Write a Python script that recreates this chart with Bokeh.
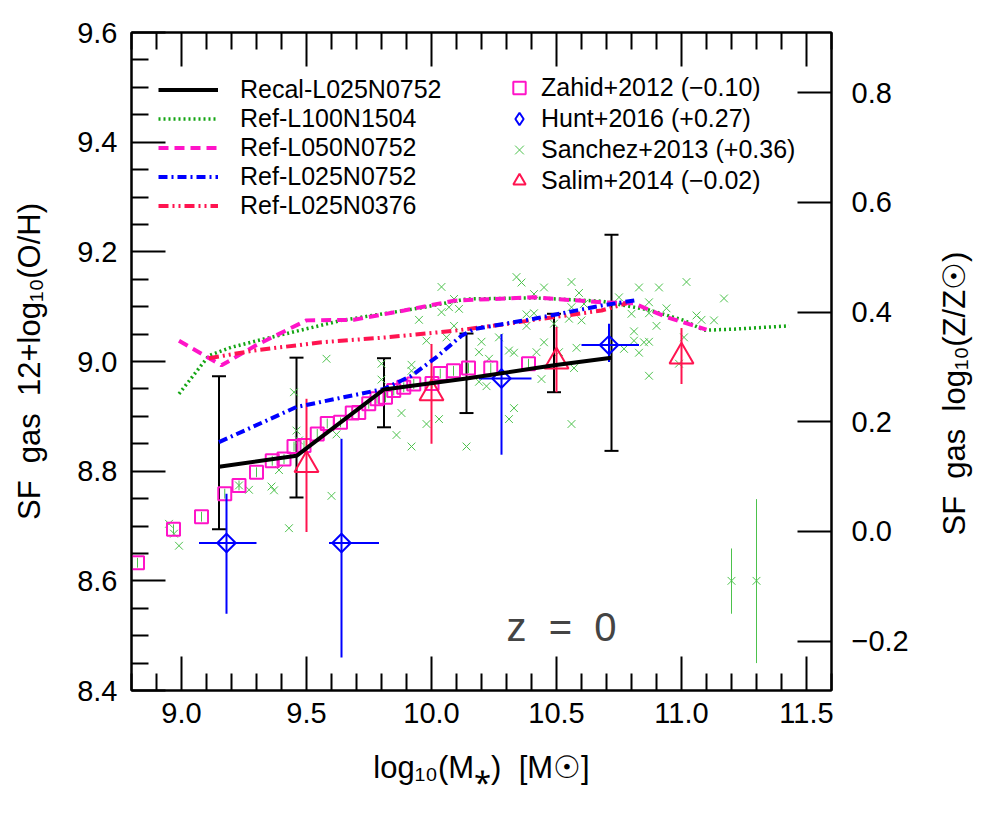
import math
from bokeh.plotting import figure
from bokeh.models import (Range1d, LinearAxis, FixedTicker, Legend, LegendItem, Label, Whisker,
                          TeeHead, ColumnDataSource, PrintfTickFormatter)
from bokeh.embed import file_html
from bokeh.resources import INLINE

# ---------------- data ----------------
SOLAR_OH = 8.69

x_ticks = [9.0, 9.5, 10.0, 10.5, 11.0, 11.5]
x_minor = [8.8, 8.9, 9.1, 9.2, 9.3, 9.4, 9.6, 9.7, 9.8, 9.9, 10.1, 10.2, 10.3, 10.4, 10.6,
           10.7, 10.8, 10.9, 11.1, 11.2, 11.3, 11.4, 11.6]
y_ticks = [8.4, 8.6, 8.8, 9.0, 9.2, 9.4, 9.6]
y_minor = [8.45, 8.5, 8.55, 8.65, 8.7, 8.75, 8.85, 8.9, 8.95, 9.05, 9.1, 9.15, 9.25, 9.3, 9.35,
           9.45, 9.5, 9.55]
right_ticks = [-0.2, 0.0, 0.2, 0.4, 0.6, 0.8]
right_labels = ["\u22120.2", "0.0", "0.2", "0.4", "0.6", "0.8"]

recal_x = [9.15, 9.46, 9.81, 10.14, 10.49, 10.72]
recal_y = [8.808, 8.828, 8.949, 8.969, 8.993, 9.007]
recal_lo = [8.694, 8.752, 8.880, 8.906, 8.944, 8.837]
recal_hi = [8.973, 9.007, 9.006, 9.051, 9.087, 9.231]

ref100_x = [8.99, 9.11, 9.20, 9.33, 9.64, 9.96, 10.14, 10.41, 10.68, 10.87, 11.01, 11.09, 11.21, 11.43]
ref100_y = [8.941, 9.011, 9.026, 9.041, 9.075, 9.098, 9.114, 9.116, 9.110, 9.094, 9.075, 9.057, 9.059, 9.065]

ref50_x = [8.99, 9.16, 9.30, 9.50, 9.69, 9.89, 10.09, 10.41, 10.68, 10.81, 10.94, 11.10]
ref50_y = [9.038, 8.993, 9.030, 9.075, 9.076, 9.093, 9.111, 9.117, 9.108, 9.106, 9.081, 9.058]

ref25_x = [9.15, 9.46, 9.81, 9.92, 10.02, 10.12, 10.17, 10.41, 10.68, 10.82]
ref25_y = [8.853, 8.917, 8.950, 8.974, 9.008, 9.047, 9.059, 9.078, 9.102, 9.112]

ref25lo_x = [9.11, 9.29, 9.56, 9.82, 10.09, 10.28, 10.41, 10.54, 10.68, 10.78]
ref25lo_y = [9.006, 9.020, 9.035, 9.044, 9.056, 9.067, 9.076, 9.084, 9.093, 9.106]

zahid_x = [8.824, 8.968, 9.080, 9.173, 9.230, 9.300, 9.363, 9.410, 9.450, 9.490, 9.543,
           9.583, 9.636, 9.683, 9.709, 9.749, 9.782, 9.816, 9.849, 9.889, 9.929, 10.002,
           10.035, 10.088, 10.148, 10.237, 10.388]
zahid_y = [8.633, 8.694, 8.717, 8.759, 8.774, 8.798, 8.819, 8.822, 8.845, 8.847, 8.868,
           8.887, 8.889, 8.906, 8.907, 8.923, 8.932, 8.935, 8.947, 8.953, 8.959, 8.960,
           8.978, 8.983, 8.988, 8.988, 8.996]
zahid_err = [0.009, 0.009, 0.009, 0.009, 0.009, 0.009, 0.009, 0.009, 0.009, 0.009, 0.009,
             0.009, 0.009, 0.009, 0.009, 0.009, 0.009, 0.009, 0.009, 0.009, 0.009, 0.009,
             0.009, 0.009, 0.009, 0.009, 0.009]

hunt_x = [9.18, 9.64, 10.28, 10.71]
hunt_y = [8.669, 8.669, 8.969, 9.030]
hunt_xlo = [9.07, 9.59, 10.19, 10.60]
hunt_xhi = [9.30, 9.79, 10.40, 10.83]
hunt_ylo = [8.540, 8.460, 8.830, 8.999]
hunt_yhi = [8.759, 8.859, 9.050, 9.069]

sanchez_x = [10.04, 10.09, 10.04, 10.11, 10.07, 9.95, 10.09, 9.98, 10.20, 10.06, 9.58, 10.19,
             9.80, 9.92, 9.92, 10.23, 10.27, 9.45, 9.80, 10.19, 10.22, 9.88, 10.03, 9.98,
             9.86, 9.46, 9.47, 9.62, 9.92, 10.14, 9.39, 9.36, 9.37, 9.27, 9.23, 9.60, 9.43,
             8.95, 8.97, 8.99, 10.34, 10.36, 10.38, 10.38, 10.33, 10.33, 10.31, 10.45, 10.56,
             10.59, 11.17, 10.83, 10.91, 11.02, 10.41, 10.41, 10.75, 10.87, 10.94, 10.80,
             10.87, 11.06, 11.08, 11.13, 10.90, 10.60, 10.55, 10.49, 10.56, 10.81, 10.81,
             10.85, 10.87, 11.01, 10.58, 10.57, 10.83, 10.87, 10.77, 10.45, 10.42, 10.31,
             10.56, 10.61, 10.44, 10.51, 10.99]
sanchez_y = [9.136, 9.114, 9.090, 9.096, 9.099, 9.076, 9.065, 9.038, 9.036, 9.044, 9.005, 9.017,
             8.996, 8.994, 8.983, 9.005, 9.044, 8.944, 8.967, 8.963, 8.955, 8.906, 8.895, 8.886,
             8.866, 8.874, 8.856, 8.867, 8.845, 8.845, 8.802, 8.772, 8.765, 8.766, 8.774, 8.755, 8.696,
             8.704, 8.686, 8.664, 9.154, 9.144, 9.086, 9.065, 9.016, 8.915, 8.895, 9.135, 9.145,
             9.125, 9.115, 9.135, 9.135, 9.145, 9.123, 9.088, 9.117, 9.108, 9.097, 9.087,
             9.088, 9.084, 9.076, 9.075, 9.065, 9.075, 9.078, 9.069, 9.099, 9.055, 9.038,
             9.035, 9.036, 9.044, 9.025, 8.988, 9.016, 8.974, 9.023, 9.035, 9.017, 9.020,
             8.886, 9.105, 8.968, 9.017, 8.996]

sanchez_err_x = [11.2, 11.3]
sanchez_err_y = [8.60, 8.60]
sanchez_err_lo = [8.540, 8.450]
sanchez_err_hi = [8.659, 8.749]

salim_x = [9.5, 10.0, 10.5, 11.0]
salim_y = [8.811, 8.942, 9.000, 9.009]
salim_lo = [8.689, 8.850, 8.944, 8.959]
salim_hi = [8.932, 9.032, 9.063, 9.061]

RIGHT_TITLE = "SF\u00a0 gas\u00a0 log\u2081\u2080(Z/Z\u2609)"

# ---------------- styles ----------------
FONT = "Liberation Sans"
BLACK = "#000000"
GREEN = "#14a514"
MAGENTA = "#ff14c8"
BLUE = "#0000ff"
RED = "#ff1450"
XGREEN = "#4cc24c"

p = figure(width=992, height=810, output_backend="svg", toolbar_location=None,
           x_range=Range1d(8.8, 11.6), y_range=Range1d(8.4, 9.6),
           min_border_left=131, min_border_right=159, min_border_top=32, min_border_bottom=120,
           x_axis_location=None, y_axis_location=None)
p.xgrid.visible = False
p.ygrid.visible = False
p.outline_line_color = "black"
p.outline_line_width = 2
p.background_fill_color = "white"
p.border_fill_color = "white"


def style_axis(ax):
    ax.axis_line_width = 2
    ax.major_tick_line_width = 2
    ax.minor_tick_line_width = 2
    ax.major_tick_in = 34
    ax.major_tick_out = 0
    ax.minor_tick_in = 17
    ax.minor_tick_out = 0
    ax.major_label_text_font = FONT
    ax.major_label_text_font_size = "29px"
    ax.major_label_text_color = "black"
    ax.axis_label_text_font = FONT
    ax.axis_label_text_font_size = "31px"
    ax.axis_label_text_font_style = "normal"
    ax.axis_label_text_color = "black"


xb = LinearAxis(ticker=FixedTicker(ticks=x_ticks, minor_ticks=x_minor),
                formatter=PrintfTickFormatter(format="%.1f"),
                axis_label="log\u2081\u2080(M\u204e)\u00a0 [M\u2609]")
style_axis(xb)
xb.major_label_standoff = 12
xb.axis_label_standoff = 24
p.add_layout(xb, "below")

xt = LinearAxis(ticker=FixedTicker(ticks=x_ticks, minor_ticks=x_minor),
                major_label_overrides={t: "" for t in x_ticks})
style_axis(xt)
xt.major_label_standoff = 0
p.add_layout(xt, "above")

yl = LinearAxis(ticker=FixedTicker(ticks=y_ticks, minor_ticks=y_minor),
                formatter=PrintfTickFormatter(format="%.1f"),
                axis_label="SF\u00a0 gas\u00a0 12+log\u2081\u2080(O/H)")
style_axis(yl)
yl.major_label_standoff = 14
yl.axis_label_standoff = 27
p.add_layout(yl, "left")

p.extra_y_ranges = {"zsun": Range1d(8.4 - SOLAR_OH, 9.6 - SOLAR_OH)}
yr = LinearAxis(y_range_name="zsun", ticker=FixedTicker(ticks=right_ticks, minor_ticks=[]),
                major_label_overrides={t: s for t, s in zip(right_ticks, right_labels)})
style_axis(yr)
yr.minor_tick_in = 0
yr.major_label_standoff = 20
p.add_layout(yr, "right")

# second (tick-less) right axis that only carries the right-hand title, reading upwards
yr2 = LinearAxis(y_range_name="zsun", ticker=FixedTicker(ticks=[], minor_ticks=[]))
style_axis(yr2)
yr2.axis_line_color = None
yr2.major_tick_line_color = None
yr2.minor_tick_line_color = None
yr2.major_tick_in = 0
yr2.minor_tick_in = 0
yr2.major_label_standoff = 0
yr2.axis_label_standoff = 43
yr2.axis_label_orientation = math.pi / 2
if "axis_label_align" in yr2.properties():
    yr2.axis_label_align = "start"
    yr2.axis_label = "\u00a0" * 18 + RIGHT_TITLE
else:
    yr2.axis_label = RIGHT_TITLE
p.add_layout(yr2, "right")

# ---------------- observations ----------------
p.scatter(sanchez_x, sanchez_y, marker="x", size=11, line_color=XGREEN, line_width=1)
p.segment(sanchez_err_x, sanchez_err_lo, sanchez_err_x, sanchez_err_hi, line_color=XGREEN, line_width=1)
r_sanchez = p.scatter(sanchez_err_x, sanchez_err_y, marker="x", size=11, line_color=XGREEN, line_width=1)

p.segment(zahid_x, [y - e for y, e in zip(zahid_y, zahid_err)],
          zahid_x, [y + e for y, e in zip(zahid_y, zahid_err)], line_color=XGREEN, line_width=1)
r_zahid = p.scatter(zahid_x, zahid_y, marker="square", size=13, fill_color=None,
                    line_color=MAGENTA, line_width=2)

p.segment(hunt_x, hunt_ylo, hunt_x, hunt_yhi, line_color=BLUE, line_width=2)
p.segment(hunt_xlo, hunt_y, hunt_xhi, hunt_y, line_color=BLUE, line_width=2)
p.scatter(hunt_x, hunt_y, marker="square", angle=math.pi / 4, size=13, fill_color=None,
          line_color=BLUE, line_width=2)
# renderer used only for the legend symbol (zero-size markers on the Hunt points)
r_hunt_leg = p.scatter(hunt_x, hunt_y, marker="diamond", size=0, fill_color=None,
                       line_color=BLUE, line_width=2)

p.segment(salim_x, salim_lo, salim_x, salim_hi, line_color=RED, line_width=2)
r_salim = p.scatter(salim_x, salim_y, marker="triangle", size=24, fill_color=None,
                    line_color=RED, line_width=2)

# ---------------- simulations ----------------
r_ref100 = p.line(ref100_x, ref100_y, line_color=GREEN, line_width=3.5, line_dash="2 3")
r_ref50 = p.line(ref50_x, ref50_y, line_color=MAGENTA, line_width=4, line_dash="10 6")
r_ref25lo = p.line(ref25lo_x, ref25lo_y, line_color=RED, line_width=4, line_dash="10 4 2 4 2 4")
r_ref25 = p.line(ref25_x, ref25_y, line_color=BLUE, line_width=4, line_dash="9 4 2 4")
r_recal = p.line(recal_x, recal_y, line_color=BLACK, line_width=4)

src = ColumnDataSource(dict(x=recal_x, lo=recal_lo, hi=recal_hi))
p.add_layout(Whisker(base="x", lower="lo", upper="hi", source=src, dimension="height",
                     line_color="black", line_width=2,
                     upper_head=TeeHead(size=14, line_color="black", line_width=2),
                     lower_head=TeeHead(size=14, line_color="black", line_width=2)))

# ---------------- legends ----------------
leg1 = Legend(items=[
    LegendItem(label="Recal-L025N0752", renderers=[r_recal]),
    LegendItem(label="Ref-L100N1504", renderers=[r_ref100]),
    LegendItem(label="Ref-L050N0752", renderers=[r_ref50]),
    LegendItem(label="Ref-L025N0752", renderers=[r_ref25]),
    LegendItem(label="Ref-L025N0376", renderers=[r_ref25lo]),
], location=(27, 470))
leg2 = Legend(items=[
    LegendItem(label="Zahid+2012 (\u22120.10)", renderers=[r_zahid]),
    LegendItem(label="Hunt+2016 (+0.27)", renderers=[r_hunt_leg]),
    LegendItem(label="Sanchez+2013 (+0.36)", renderers=[r_sanchez]),
    LegendItem(label="Salim+2014 (\u22120.02)", renderers=[r_salim]),
], location=(371, 494))
for lg, gw, lh, so in ((leg1, 60, 29, 22), (leg2, 34, 31, 5)):
    lg.glyph_width = gw
    lg.glyph_height = lh
    lg.label_height = lh
    lg.spacing = 0
    lg.label_standoff = so
    lg.padding = 0
    lg.margin = 0
    lg.border_line_color = None
    lg.background_fill_alpha = 0
    lg.label_text_font = FONT
    lg.label_text_font_size = "25px"
    lg.label_text_color = "black"
    p.add_layout(lg)

# ---------------- texts ----------------
p.add_layout(Label(x=10.52, y=8.515, text="z\u00a0 =\u00a0 0", text_font=FONT,
                   text_font_size="40px", text_align="center", text_baseline="middle"))

open("out.html", "w").write(file_html(p, INLINE))
